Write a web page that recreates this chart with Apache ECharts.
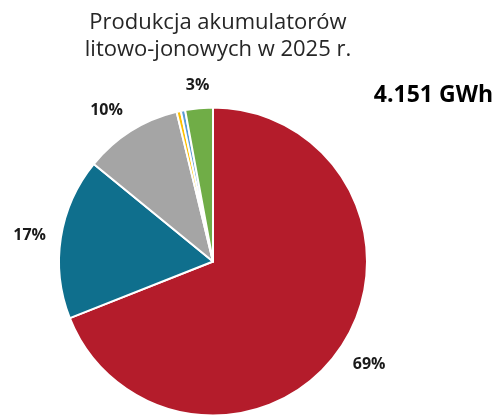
<!DOCTYPE html>
<html>
<head>
<meta charset="utf-8">
<script src="https://cdn.jsdelivr.net/npm/echarts@6/dist/echarts.min.js"></script>
<style>
  html, body { margin: 0; padding: 0; background: #fff; }
  #main { width: 502px; height: 416px; }
</style>
</head>
<body>
<div id="main"></div>
<script>
// udziały w produkcji (%)
const categories = ['Segment 1', 'Segment 2', 'Segment 3', 'Segment 4', 'Segment 5', 'Segment 6'];
const shares = [69.0, 16.9, 10.3, 0.45, 0.45, 2.9];
const colors = ['#B41C2B', '#0F6F8D', '#A5A5A5', '#FFC000', '#5B9BD5', '#70AD47'];
const totalLabel = '4.151 GWh';

const chart = echarts.init(document.getElementById('main'));
const font = '"Open Sans", "Noto Sans", sans-serif';
const gap = 15;

const option = {
    animation: false,
    title: [
        {
            text: 'Produkcja akumulatorów\nlitowo-jonowych w 2025 r.',
            left: 213,
            top: 4,
            textAlign: 'center',
            textStyle: {
                fontFamily: font,
                fontSize: 22,
                fontWeight: 'normal',
                lineHeight: 27,
                color: '#262626'
            }
        },
        {
            text: totalLabel,
            right: 4,
            top: 79,
            textStyle: {
                fontFamily: font,
                fontSize: 23,
                fontWeight: 'bold',
                color: '#000'
            }
        }
    ],
    series: [
        {
            type: 'pie',
            center: [213, 261.5],
            radius: 154,
            startAngle: 90,
            avoidLabelOverlap: false,
            itemStyle: {
                borderColor: '#fff',
                borderWidth: 2
            },
            label: {
                position: 'outside',
                fontFamily: font,
                fontSize: 16,
                fontWeight: 'bold',
                color: '#1a1a1a',
                formatter: (p) => p.value >= 1 ? Math.round(p.value) + '%' : ''
            },
            labelLine: {
                show: true,
                length: 10,
                length2: 0,
                lineStyle: { opacity: 0 }
            },
            labelLayout: (params) => {
                const pts = params.labelLinePoints;
                if (!pts) return {};
                const vx = pts[1][0] - pts[0][0];
                const vy = pts[1][1] - pts[0][1];
                const len = Math.hypot(vx, vy) || 1;
                const dx = vx / len, dy = vy / len;
                return {
                    x: pts[0][0] + dx * gap,
                    y: pts[0][1] + dy * gap,
                    align: dx < -0.3 ? 'right' : (dx > 0.3 ? 'left' : 'center'),
                    verticalAlign: dy < -0.3 ? 'bottom' : (dy > 0.3 ? 'top' : 'middle')
                };
            },
            data: categories.map((name, i) => ({
                name: name,
                value: shares[i],
                itemStyle: { color: colors[i] }
            }))
        }
    ]
};

chart.setOption(option);
</script>
</body>
</html>
